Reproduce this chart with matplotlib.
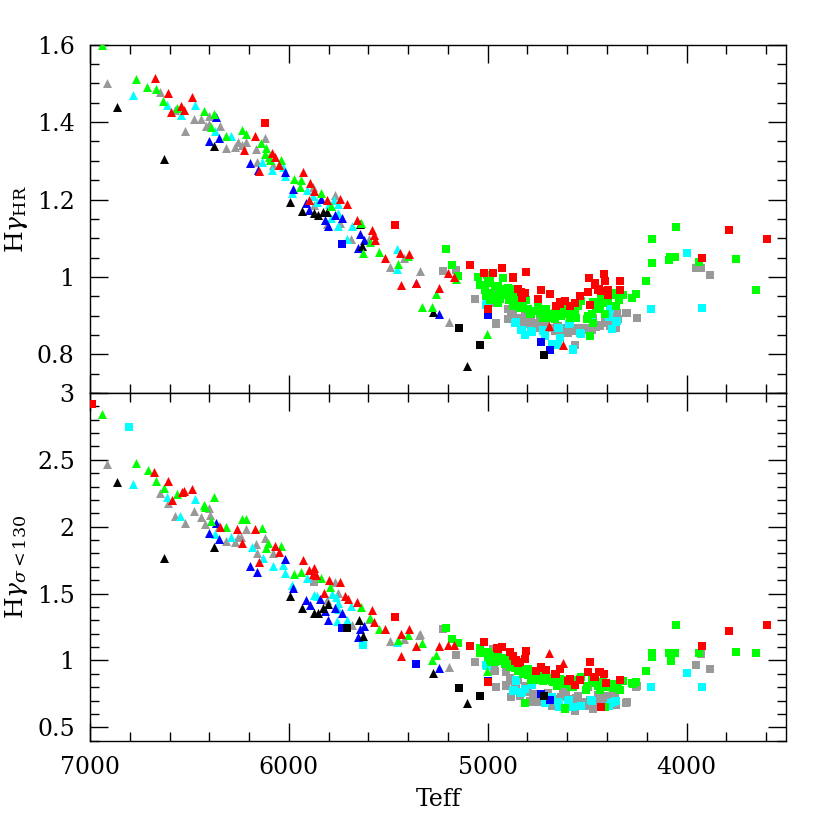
import matplotlib
matplotlib.use("Agg")
import matplotlib.pyplot as plt
from matplotlib.ticker import FixedLocator, MultipleLocator

plt.rcParams['font.family'] = ['DejaVu Serif']
plt.rcParams['mathtext.fontset'] = 'dejavuserif'

# sample code -> colour
colors = {'r': '#ff0000', 'g': '#00ff00', 'a': '#999999',
          'c': '#00ffff', 'b': '#0000ff', 'k': '#000000'}

# (Teff, value, sample) -- top panel, triangles
top_tri = [
    (6938, 1.600, 'g'), (6916, 1.500, 'a'), (6863, 1.438, 'k'), (6783, 1.469, 'c'), (6768, 1.511, 'g'),
    (6674, 1.513, 'r'), (6711, 1.490, 'g'), (6669, 1.486, 'g'), (6649, 1.478, 'a'), (6610, 1.474, 'r'),
    (6632, 1.455, 'g'), (6615, 1.444, 'c'), (6594, 1.427, 'r'), (6574, 1.431, 'a'), (6562, 1.436, 'g'),
    (6540, 1.442, 'r'), (6527, 1.431, 'r'), (6544, 1.419, 'c'), (6487, 1.466, 'r'), (6473, 1.443, 'c'),
    (6520, 1.378, 'a'), (6629, 1.306, 'k'), (6478, 1.409, 'a'), (6440, 1.409, 'a'), (6428, 1.430, 'g'),
    (6378, 1.421, 'g'), (6401, 1.416, 'a'), (6418, 1.390, 'a'), (6403, 1.395, 'a'), (6390, 1.388, 'g'),
    (6368, 1.413, 'b'), (6345, 1.390, 'a'), (6370, 1.378, 'c'), (6401, 1.351, 'b'), (6375, 1.339, 'k'),
    (6351, 1.358, 'b'), (6318, 1.333, 'a'), (6314, 1.364, 'g'), (6289, 1.364, 'c'), (6273, 1.335, 'a'),
    (6256, 1.349, 'a'), (6234, 1.341, 'a'), (6238, 1.380, 'g'), (6214, 1.370, 'g'), (6214, 1.349, 'a'),
    (6223, 1.327, 'r'), (6169, 1.364, 'r'), (6167, 1.330, 'a'), (6161, 1.298, 'a'), (6194, 1.294, 'b'),
    (6152, 1.273, 'r'), (6156, 1.277, 'b'), (6134, 1.298, 'c'), (6141, 1.347, 'g'), (6119, 1.359, 'a'),
    (6117, 1.333, 'g'), (6122, 1.318, 'g'), (6102, 1.311, 'g'), (6084, 1.320, 'r'), (6072, 1.309, 'r'),
    (6097, 1.301, 'g'), (6050, 1.290, 'r'), (6084, 1.277, 'c'), (6080, 1.290, 'a'), (6039, 1.303, 'g'),
    (6030, 1.284, 'c'), (6017, 1.270, 'b'), (6017, 1.260, 'c'), (5993, 1.194, 'k'), (5980, 1.227, 'b'),
    (5983, 1.217, 'c'), (5975, 1.254, 'g'), (5927, 1.270, 'r'), (5938, 1.250, 'g'), (5943, 1.233, 'g'),
    (5935, 1.170, 'k'), (5910, 1.224, 'c'), (5893, 1.242, 'r'), (5880, 1.232, 'a'), (5871, 1.221, 'r'),
    (5900, 1.198, 'r'), (5913, 1.191, 'b'), (5897, 1.174, 'b'), (5871, 1.185, 'a'), (5860, 1.193, 'c'),
    (5875, 1.165, 'k'), (5855, 1.160, 'k'), (5838, 1.218, 'g'), (5876, 1.208, 'c'), (5836, 1.201, 'b'),
    (5830, 1.168, 'k'), (5808, 1.167, 'k'), (5809, 1.200, 'r'), (5799, 1.189, 'c'), (5816, 1.146, 'b'),
    (5804, 1.131, 'b'), (5809, 1.137, 'a'), (5788, 1.152, 'c'), (5766, 1.161, 'b'), (5766, 1.212, 'a'),
    (5771, 1.199, 'c'), (5788, 1.182, 'g'), (5755, 1.189, 'c'), (5745, 1.201, 'r'), (5754, 1.131, 'c'),
    (5744, 1.139, 'a'), (5752, 1.164, 'c'), (5731, 1.152, 'b'), (5710, 1.189, 'r'), (5683, 1.131, 'c'),
    (5659, 1.148, 'r'), (5642, 1.138, 'k'), (5637, 1.139, 'g'), (5642, 1.112, 'b'), (5708, 1.098, 'c'),
    (5686, 1.098, 'a'), (5632, 1.081, 'k'), (5654, 1.075, 'b'), (5620, 1.095, 'b'), (5629, 1.062, 'g'),
    (5595, 1.098, 'a'), (5592, 1.091, 'g'), (5582, 1.122, 'r'), (5570, 1.109, 'r'), (5565, 1.096, 'r'),
    (5549, 1.064, 'g'), (5515, 1.049, 'r'), (5457, 1.073, 'c'), (5492, 1.026, 'a'), (5458, 1.021, 'c'),
    (5453, 1.033, 'g'), (5437, 0.978, 'r'), (5442, 1.062, 'r'), (5398, 1.060, 'r'), (5420, 1.049, 'a'),
    (5402, 1.054, 'g'), (5361, 0.985, 'r'), (5359, 0.983, 'b'), (5342, 1.015, 'a'), (5329, 0.922, 'g'),
    (5278, 0.922, 'g'), (5275, 0.909, 'k'), (5245, 0.903, 'b'), (5196, 0.883, 'a'), (5262, 0.957, 'g'),
    (5245, 0.972, 'r'), (5200, 1.009, 'r'), (5169, 1.000, 'r'), (5158, 0.995, 'g'), (5002, 0.853, 'g'),
    (5106, 0.769, 'k'), (4693, 0.874, 'r'), (4621, 0.824, 'r'),
]

# top panel, squares
top_sq = [
    (6122, 1.399, 'r'), (5465, 1.133, 'r'), (5735, 1.086, 'b'), (5225, 1.015, 'a'), (5161, 1.017, 'a'),
    (5208, 1.072, 'g'), (5179, 1.030, 'g'), (5148, 1.003, 'g'), (5087, 1.030, 'r'), (5065, 0.944, 'a'),
    (5040, 0.824, 'k'), (5144, 0.868, 'k'), (5007, 0.928, 'c'), (4998, 0.902, 'b'), (4998, 0.916, 'r'),
    (4956, 0.879, 'a'), (4730, 0.833, 'b'), (4685, 0.811, 'b'), (4715, 0.797, 'k'),
    # gray
    (4973, 0.956, 'a'), (4898, 0.890, 'a'), (4881, 0.903, 'a'), (4864, 0.890, 'a'), (4847, 0.894, 'a'),
    (4831, 0.885, 'a'), (4814, 0.898, 'a'), (4797, 0.879, 'a'), (4780, 0.890, 'a'), (4763, 0.877, 'a'),
    (4747, 0.872, 'a'), (4738, 0.885, 'a'), (4705, 0.885, 'a'), (4680, 0.868, 'a'), (4663, 0.859, 'a'),
    (4646, 0.872, 'a'), (4621, 0.864, 'a'), (4604, 0.868, 'a'), (4571, 0.859, 'a'), (4546, 0.868, 'a'),
    (4520, 0.864, 'a'), (4504, 0.866, 'a'), (4478, 0.864, 'a'), (4453, 0.871, 'a'), (4436, 0.874, 'a'),
    (4411, 0.881, 'a'), (4386, 0.874, 'a'), (4355, 0.868, 'a'), (4344, 0.892, 'a'), (4306, 0.906, 'a'),
    (4247, 0.894, 'a'), (4562, 0.825, 'a'), (4470, 0.894, 'a'), (3953, 1.023, 'a'), (3928, 1.023, 'a'),
    (3883, 1.006, 'a'), (4598, 0.855, 'a'), (4981, 0.933, 'a'), (4897, 0.916, 'a'), (4872, 0.903, 'a'),
    (4839, 0.894, 'a'), (4822, 0.881, 'a'), (4788, 0.884, 'a'), (4755, 0.881, 'a'), (4738, 0.869, 'a'),
    (4713, 0.873, 'a'), (4679, 0.869, 'a'), (4654, 0.873, 'a'), (4612, 0.864, 'a'), (4596, 0.860, 'a'),
    (4570, 0.869, 'a'), (4545, 0.860, 'a'), (4512, 0.869, 'a'), (4470, 0.873, 'a'), (4436, 0.877, 'a'),
    (4411, 0.886, 'a'), (4369, 0.894, 'a'), (4352, 0.907, 'a'), (4956, 0.881, 'a'), (4302, 0.907, 'a'),
    # cyan
    (4864, 0.881, 'c'), (4856, 0.883, 'c'), (4831, 0.864, 'c'), (4814, 0.851, 'c'), (4775, 0.858, 'c'),
    (4722, 0.864, 'c'), (4713, 0.847, 'c'), (4675, 0.826, 'c'), (4641, 0.868, 'c'), (4638, 0.842, 'c'),
    (4646, 0.823, 'c'), (4591, 0.878, 'c'), (4571, 0.812, 'c'), (4532, 0.853, 'c'), (4482, 0.892, 'c'),
    (4391, 0.897, 'c'), (4383, 0.916, 'c'), (4374, 0.866, 'c'), (4353, 0.884, 'c'), (4177, 0.916, 'c'),
    (4000, 1.062, 'c'), (3922, 0.919, 'c'), (5006, 0.929, 'c'), (4830, 0.864, 'c'), (4780, 0.860, 'c'),
    (4721, 0.860, 'c'), (4646, 0.868, 'c'), (4587, 0.881, 'c'), (4537, 0.855, 'c'), (4386, 0.916, 'c'),
    (4352, 0.886, 'c'), (4570, 0.814, 'c'),
    # green
    (5050, 1.000, 'g'), (5040, 0.980, 'g'), (5012, 0.966, 'g'), (5003, 1.006, 'g'), (4993, 1.002, 'g'),
    (4987, 0.989, 'g'), (5010, 0.950, 'g'), (4990, 0.941, 'g'), (4970, 0.950, 'g'), (4948, 0.976, 'g'),
    (4943, 0.960, 'g'), (4923, 0.997, 'g'), (4920, 0.969, 'g'), (4906, 0.954, 'g'), (4898, 0.972, 'g'),
    (4893, 0.941, 'g'), (4873, 0.969, 'g'), (4856, 0.959, 'g'), (4864, 0.937, 'g'), (4839, 0.941, 'g'),
    (4822, 0.933, 'g'), (4805, 0.941, 'g'), (4797, 0.916, 'g'), (4780, 0.903, 'g'), (4772, 0.911, 'g'),
    (4747, 0.928, 'g'), (4738, 0.907, 'g'), (4705, 0.916, 'g'), (4697, 0.903, 'g'), (4680, 0.894, 'g'),
    (4663, 0.907, 'g'), (4646, 0.898, 'g'), (4621, 0.916, 'g'), (4604, 0.903, 'g'), (4587, 0.894, 'g'),
    (4571, 0.907, 'g'), (4554, 0.894, 'g'), (4529, 0.937, 'g'), (4495, 0.898, 'g'), (4473, 0.935, 'g'),
    (4453, 0.924, 'g'), (4436, 0.916, 'g'), (4428, 0.948, 'g'), (4411, 0.903, 'g'), (4394, 0.937, 'g'),
    (4369, 0.954, 'g'), (4355, 0.926, 'g'), (4340, 0.940, 'g'), (4322, 0.954, 'g'), (4272, 0.946, 'g'),
    (4255, 0.957, 'g'), (4202, 0.989, 'g'), (4172, 1.036, 'g'), (4173, 1.098, 'g'), (4088, 1.045, 'g'),
    (4081, 1.052, 'g'), (4059, 1.052, 'g'), (4054, 1.129, 'g'), (3938, 1.038, 'g'), (3749, 1.047, 'g'),
    (3652, 0.966, 'g'), (4470, 0.881, 'g'), (5006, 1.006, 'g'), (4998, 0.985, 'g'), (4965, 0.976, 'g'),
    (4939, 0.942, 'g'), (4914, 0.954, 'g'), (4881, 0.950, 'g'), (4872, 0.925, 'g'), (4839, 0.920, 'g'),
    (4788, 0.903, 'g'), (4721, 0.894, 'g'), (4679, 0.899, 'g'), (4663, 0.890, 'g'), (4629, 0.899, 'g'),
    (4612, 0.911, 'g'), (4596, 0.916, 'g'), (4562, 0.903, 'g'), (4545, 0.924, 'g'), (4503, 0.890, 'g'),
    (4478, 0.903, 'g'), (4461, 0.933, 'g'), (4420, 0.933, 'g'), (4378, 0.959, 'g'), (4352, 0.959, 'g'),
    (4327, 0.954, 'g'), (4487, 0.847, 'g'), (4562, 0.933, 'g'), (4948, 0.933, 'g'), (4990, 0.959, 'g'),
    # red
    (5020, 1.009, 'r'), (4973, 1.009, 'r'), (4928, 1.024, 'r'), (4873, 0.997, 'r'), (4809, 1.012, 'r'),
    (4847, 0.969, 'r'), (4831, 0.960, 'r'), (4814, 0.959, 'r'), (4826, 0.946, 'r'), (4747, 0.943, 'r'),
    (4733, 0.965, 'r'), (4688, 0.955, 'r'), (4658, 0.924, 'r'), (4634, 0.934, 'r'), (4613, 0.937, 'r'),
    (4587, 0.926, 'r'), (4562, 0.933, 'r'), (4537, 0.950, 'r'), (4495, 0.962, 'r'), (4490, 0.997, 'r'),
    (4462, 0.984, 'r'), (4442, 0.969, 'r'), (4428, 0.963, 'r'), (4413, 1.007, 'r'), (4411, 0.989, 'r'),
    (4394, 0.954, 'r'), (4333, 0.989, 'r'), (4336, 0.967, 'r'), (4484, 0.928, 'r'), (3924, 1.049, 'r'),
    (3786, 1.121, 'r'), (3598, 1.097, 'r'), (4872, 1.000, 'r'), (4637, 0.929, 'r'), (4461, 0.980, 'r'),
    (4445, 0.967, 'r'), (4394, 0.967, 'r'),
]

# bottom panel, triangles
bot_tri = [
    (6938, 2.845, 'g'), (6916, 2.470, 'a'), (6863, 2.337, 'k'), (6783, 2.320, 'c'), (6768, 2.475, 'g'),
    (6709, 2.425, 'g'), (6676, 2.408, 'r'), (6666, 2.343, 'g'), (6610, 2.345, 'r'), (6649, 2.255, 'a'),
    (6629, 2.290, 'g'), (6615, 2.225, 'c'), (6607, 2.180, 'a'), (6587, 2.200, 'r'), (6562, 2.245, 'g'),
    (6535, 2.263, 'r'), (6527, 2.270, 'r'), (6487, 2.283, 'r'), (6473, 2.205, 'c'), (6574, 2.080, 'a'),
    (6545, 2.080, 'c'), (6520, 2.025, 'a'), (6478, 2.120, 'a'), (6440, 2.075, 'a'), (6428, 2.163, 'g'),
    (6423, 2.145, 'g'), (6401, 2.138, 'a'), (6398, 2.088, 'a'), (6378, 2.220, 'g'), (6423, 2.020, 'a'),
    (6390, 2.043, 'g'), (6368, 2.030, 'b'), (6401, 1.955, 'b'), (6370, 1.945, 'c'), (6345, 1.995, 'r'),
    (6351, 2.005, 'a'), (6314, 2.000, 'g'), (6375, 1.850, 'k'), (6351, 1.905, 'b'), (6318, 1.895, 'a'),
    (6289, 1.925, 'c'), (6273, 1.885, 'a'), (6256, 1.925, 'a'), (6239, 1.925, 'a'), (6236, 2.055, 'g'),
    (6214, 2.058, 'g'), (6259, 1.980, 'r'), (6214, 1.980, 'a'), (6234, 1.875, 'r'), (6169, 1.980, 'r'),
    (6137, 1.993, 'g'), (6122, 1.913, 'a'), (6164, 1.870, 'a'), (6184, 1.850, 'c'), (6161, 1.805, 'a'),
    (6117, 1.838, 'g'), (6105, 1.875, 'g'), (6130, 1.763, 'c'), (6152, 1.738, 'r'), (6194, 1.708, 'b'),
    (6161, 1.658, 'b'), (6629, 1.768, 'k'), (6072, 1.858, 'r'), (6080, 1.800, 'a'), (6050, 1.813, 'r'),
    (6039, 1.858, 'g'), (6080, 1.708, 'c'), (6030, 1.713, 'c'), (6017, 1.755, 'b'), (6017, 1.655, 'c'),
    (5980, 1.545, 'b'), (5983, 1.563, 'c'), (5993, 1.480, 'k'), (5975, 1.645, 'g'), (5938, 1.663, 'g'),
    (5927, 1.750, 'r'), (5910, 1.613, 'c'), (5900, 1.680, 'r'), (5871, 1.688, 'r'), (5880, 1.650, 'r'),
    (5863, 1.638, 'r'), (5838, 1.613, 'g'), (5799, 1.605, 'r'), (5795, 1.550, 'g'), (5821, 1.505, 'r'),
    (5766, 1.588, 'a'), (5742, 1.588, 'r'), (5871, 1.488, 'c'), (5858, 1.483, 'c'), (5913, 1.455, 'b'),
    (5893, 1.413, 'b'), (5841, 1.463, 'b'), (5935, 1.395, 'k'), (5875, 1.355, 'k'), (5855, 1.355, 'k'),
    (5830, 1.395, 'k'), (5804, 1.425, 'k'), (5816, 1.370, 'b'), (5804, 1.300, 'b'), (5809, 1.455, 'a'),
    (5781, 1.500, 'c'), (5765, 1.475, 'c'), (5754, 1.430, 'c'), (5755, 1.505, 'a'), (5717, 1.480, 'r'),
    (5704, 1.463, 'r'), (5751, 1.388, 'c'), (5766, 1.395, 'b'), (5731, 1.355, 'b'), (5760, 1.293, 'c'),
    (5708, 1.300, 'c'), (5683, 1.268, 'a'), (5685, 1.405, 'c'), (5659, 1.438, 'r'), (5637, 1.400, 'g'),
    (5645, 1.300, 'k'), (5642, 1.238, 'b'), (5620, 1.255, 'b'), (5654, 1.175, 'b'), (5629, 1.180, 'k'),
    (5595, 1.313, 'a'), (5592, 1.320, 'g'), (5582, 1.375, 'r'), (5570, 1.288, 'r'), (5549, 1.238, 'g'),
    (5515, 1.233, 'r'), (5492, 1.145, 'a'), (5458, 1.138, 'c'), (5453, 1.155, 'g'), (5437, 1.033, 'r'),
    (5437, 1.200, 'r'), (5398, 1.238, 'r'), (5420, 1.163, 'a'), (5402, 1.193, 'g'), (5361, 1.105, 'r'),
    (5348, 1.188, 'a'), (5342, 1.195, 'a'), (5329, 1.127, 'g'), (5278, 1.003, 'g'), (5262, 1.040, 'g'),
    (5245, 1.110, 'r'), (5275, 0.908, 'k'), (5245, 0.946, 'b'), (5196, 0.948, 'a'), (5200, 1.115, 'r'),
    (5169, 1.115, 'r'), (5002, 0.923, 'g'), (5106, 0.685, 'k'), (4693, 1.058, 'r'), (4621, 0.978, 'r'),
]

# bottom panel, squares
bot_sq = [
    (6988, 2.920, 'r'), (6806, 2.743, 'c'), (5871, 1.588, 'a'), (5708, 1.240, 'k'), (5733, 1.245, 'b'),
    (5629, 1.118, 'c'), (5465, 1.325, 'r'), (5361, 0.975, 'b'), (5144, 0.792, 'k'), (5040, 0.734, 'k'),
    (5225, 1.232, 'a'), (5161, 1.040, 'a'), (5087, 1.107, 'r'), (5018, 1.140, 'r'), (5065, 0.990, 'a'),
    (5007, 0.966, 'c'), (4998, 0.846, 'b'), (4998, 0.836, 'r'), (4956, 0.804, 'a'),
    (4730, 0.749, 'b'), (4685, 0.704, 'b'), (4715, 0.734, 'k'),
    # gray
    (4973, 1.083, 'a'), (4968, 0.928, 'a'), (4910, 0.816, 'a'), (4889, 0.866, 'a'), (4881, 0.724, 'a'),
    (4864, 0.804, 'a'), (4847, 0.854, 'a'), (4831, 0.754, 'a'), (4814, 0.809, 'a'), (4797, 0.779, 'a'),
    (4780, 0.692, 'a'), (4763, 0.742, 'a'), (4747, 0.704, 'a'), (4722, 0.692, 'a'), (4697, 0.754, 'a'),
    (4671, 0.660, 'a'), (4654, 0.685, 'a'), (4629, 0.729, 'a'), (4604, 0.754, 'a'), (4571, 0.709, 'a'),
    (4562, 0.625, 'a'), (4554, 0.717, 'a'), (4504, 0.660, 'a'), (4487, 0.704, 'a'), (4470, 0.642, 'a'),
    (4445, 0.742, 'a'), (4419, 0.685, 'a'), (4394, 0.734, 'a'), (4369, 0.704, 'a'), (4353, 0.667, 'a'),
    (4306, 0.679, 'a'), (4247, 0.809, 'a'), (3953, 0.966, 'a'), (3928, 1.048, 'a'), (3883, 0.933, 'a'),
    (4965, 0.924, 'a'), (4906, 0.912, 'a'), (4889, 0.849, 'a'), (4906, 0.812, 'a'), (4956, 0.799, 'a'),
    (4856, 0.787, 'a'), (4839, 0.737, 'a'), (4814, 0.762, 'a'), (4788, 0.699, 'a'), (4772, 0.749, 'a'),
    (4747, 0.687, 'a'), (4721, 0.724, 'a'), (4679, 0.662, 'a'), (4654, 0.712, 'a'), (4604, 0.724, 'a'),
    (4570, 0.687, 'a'), (4545, 0.737, 'a'), (4520, 0.687, 'a'), (4495, 0.799, 'a'), (4470, 0.637, 'a'),
    (4436, 0.699, 'a'), (4420, 0.737, 'a'), (4394, 0.687, 'a'), (4361, 0.737, 'a'), (4302, 0.687, 'a'),
    (4252, 0.804, 'a'), (4621, 0.762, 'a'),
    # cyan
    (4856, 0.854, 'c'), (4869, 0.779, 'c'), (4831, 0.759, 'c'), (4812, 0.784, 'c'), (4775, 0.816, 'c'),
    (4713, 0.685, 'c'), (4680, 0.709, 'c'), (4641, 0.685, 'c'), (4641, 0.650, 'c'), (4591, 0.704, 'c'),
    (4571, 0.655, 'c'), (4529, 0.660, 'c'), (4482, 0.704, 'c'), (4389, 0.660, 'c'), (4378, 0.679, 'c'),
    (4353, 0.699, 'c'), (4177, 0.799, 'c'), (4000, 0.903, 'c'), (3922, 0.804, 'c'), (5006, 0.962, 'c'),
    (4856, 0.849, 'c'), (4872, 0.774, 'c'), (4830, 0.762, 'c'), (4713, 0.687, 'c'), (4679, 0.724, 'c'),
    (4646, 0.687, 'c'), (4596, 0.699, 'c'), (4570, 0.654, 'c'), (4478, 0.699, 'c'), (4369, 0.687, 'c'),
    # green
    (5208, 1.239, 'g'), (5179, 1.157, 'g'), (5149, 1.132, 'g'), (5040, 1.090, 'g'), (5040, 1.053, 'g'),
    (4998, 1.065, 'g'), (4990, 1.040, 'g'), (4987, 1.003, 'g'), (4965, 0.990, 'g'), (4948, 1.040, 'g'),
    (4940, 1.003, 'g'), (4923, 1.015, 'g'), (4906, 0.990, 'g'), (4889, 1.003, 'g'), (4873, 1.008, 'g'),
    (4856, 0.978, 'g'), (4864, 0.941, 'g'), (4839, 0.933, 'g'), (4814, 0.928, 'g'), (4797, 0.891, 'g'),
    (4780, 0.854, 'g'), (4763, 0.879, 'g'), (4747, 0.854, 'g'), (4730, 0.891, 'g'), (4713, 0.903, 'g'),
    (4705, 0.854, 'g'), (4688, 0.866, 'g'), (4671, 0.841, 'g'), (4654, 0.829, 'g'), (4638, 0.854, 'g'),
    (4613, 0.854, 'g'), (4596, 0.829, 'g'), (4579, 0.804, 'g'), (4562, 0.841, 'g'), (4546, 0.854, 'g'),
    (4529, 0.874, 'g'), (4504, 0.779, 'g'), (4478, 0.854, 'g'), (4453, 0.829, 'g'), (4436, 0.779, 'g'),
    (4419, 0.804, 'g'), (4394, 0.809, 'g'), (4369, 0.791, 'g'), (4355, 0.809, 'g'), (4336, 0.779, 'g'),
    (4322, 0.849, 'g'), (4272, 0.829, 'g'), (4255, 0.841, 'g'), (4202, 0.923, 'g'), (4173, 1.058, 'g'),
    (4172, 1.023, 'g'), (4088, 1.058, 'g'), (4076, 0.998, 'g'), (4059, 1.058, 'g'), (4054, 1.264, 'g'),
    (3938, 1.053, 'g'), (3749, 1.065, 'g'), (3652, 1.058, 'g'), (4814, 0.685, 'g'), (4411, 0.650, 'g'),
    (4609, 0.642, 'g'), (5023, 1.062, 'g'), (4998, 1.024, 'g'), (4981, 0.987, 'g'), (4956, 1.037, 'g'),
    (4939, 0.999, 'g'), (4914, 0.974, 'g'), (4889, 0.949, 'g'), (4872, 0.999, 'g'), (4847, 0.924, 'g'),
    (4822, 0.899, 'g'), (4797, 0.937, 'g'), (4772, 0.887, 'g'), (4747, 0.874, 'g'), (4721, 0.849, 'g'),
    (4705, 0.899, 'g'), (4679, 0.849, 'g'), (4654, 0.812, 'g'), (4638, 0.862, 'g'), (4612, 0.824, 'g'),
    (4587, 0.849, 'g'), (4570, 0.799, 'g'), (4537, 0.862, 'g'), (4503, 0.812, 'g'), (4470, 0.849, 'g'),
    (4445, 0.812, 'g'), (4420, 0.837, 'g'), (4394, 0.799, 'g'), (4369, 0.824, 'g'), (4344, 0.812, 'g'),
    (4269, 0.824, 'g'), (4252, 0.837, 'g'), (4612, 0.637, 'g'),
    # red
    (4953, 1.090, 'r'), (4928, 1.102, 'r'), (4889, 1.065, 'r'), (4873, 1.033, 'r'), (4860, 1.003, 'r'),
    (4809, 1.073, 'r'), (4814, 1.008, 'r'), (4847, 0.978, 'r'), (4755, 0.923, 'r'), (4733, 0.946, 'r'),
    (4705, 0.928, 'r'), (4658, 0.896, 'r'), (4638, 0.933, 'r'), (4587, 0.859, 'r'), (4562, 0.816, 'r'),
    (4537, 0.854, 'r'), (4495, 0.916, 'r'), (4487, 0.986, 'r'), (4466, 0.879, 'r'), (4441, 0.916, 'r'),
    (4416, 0.899, 'r'), (4403, 0.829, 'r'), (4333, 0.854, 'r'), (4428, 0.650, 'r'), (3924, 1.107, 'r'),
    (3786, 1.222, 'r'), (3598, 1.264, 'r'), (4948, 1.087, 'r'), (4864, 0.999, 'r'), (4839, 0.987, 'r'),
    (4730, 0.949, 'r'), (4663, 0.899, 'r'), (4596, 0.849, 'r'), (4461, 0.874, 'r'), (4436, 0.912, 'r'),
]

draw_order = ['a', 'c', 'b', 'k', 'g', 'r']


def draw_panel(ax, tri, sq):
    for code in draw_order:
        for rows, marker, size in ((tri, '^', 42), (sq, 's', 26)):
            xs = [t for t, v, g in rows if g == code]
            ys = [v for t, v, g in rows if g == code]
            ax.scatter(xs, ys, marker=marker, s=size, c=colors[code], linewidths=0, zorder=3)


def style_axes(ax):
    ax.set_xlim(7000, 3500)
    ax.xaxis.set_major_locator(FixedLocator([7000, 6000, 5000, 4000]))
    ax.xaxis.set_minor_locator(MultipleLocator(200))
    ax.tick_params(which='both', direction='in', top=True, right=True, width=1.0, labelsize=17)
    ax.tick_params(which='major', length=13)
    ax.tick_params(which='minor', length=6.5)
    ax.tick_params(axis='y', pad=11)
    ax.tick_params(axis='x', pad=11)
    for sp in ax.spines.values():
        sp.set_linewidth(1.0)


fig = plt.figure(figsize=(8.3, 8.3), dpi=100)
ax_top = fig.add_axes([0.1084, 0.5265, 0.8386, 0.4196])
ax_bot = fig.add_axes([0.1084, 0.1076, 0.8386, 0.4189])

draw_panel(ax_top, top_tri, top_sq)
draw_panel(ax_bot, bot_tri, bot_sq)

style_axes(ax_top)
ax_top.set_ylim(0.7, 1.6)
ax_top.yaxis.set_major_locator(FixedLocator([0.8, 1.0, 1.2, 1.4, 1.6]))
ax_top.yaxis.set_minor_locator(MultipleLocator(0.05))
ax_top.set_yticklabels(['0.8', '1', '1.2', '1.4', '1.6'])
ax_top.tick_params(axis='x', labelbottom=False)
ax_top.set_ylabel(r'H$\gamma_{\rm HR}$', fontsize=18)
ax_top.yaxis.set_label_coords(-0.086, 0.5)

style_axes(ax_bot)
ax_bot.set_ylim(0.4, 3.0)
ax_bot.yaxis.set_major_locator(FixedLocator([0.5, 1.0, 1.5, 2.0, 2.5, 3.0]))
ax_bot.yaxis.set_minor_locator(MultipleLocator(0.1))
ax_bot.set_yticklabels(['0.5', '1', '1.5', '2', '2.5', '3'])
ax_bot.set_xticklabels(['7000', '6000', '5000', '4000'])
ax_bot.set_ylabel(r'H$\gamma_{\sigma<130}$', fontsize=18)
ax_bot.yaxis.set_label_coords(-0.086, 0.5)
ax_bot.set_xlabel('Teff', fontsize=17)
ax_bot.xaxis.set_label_coords(0.5, -0.135)

fig.savefig('out.png', dpi=100)
